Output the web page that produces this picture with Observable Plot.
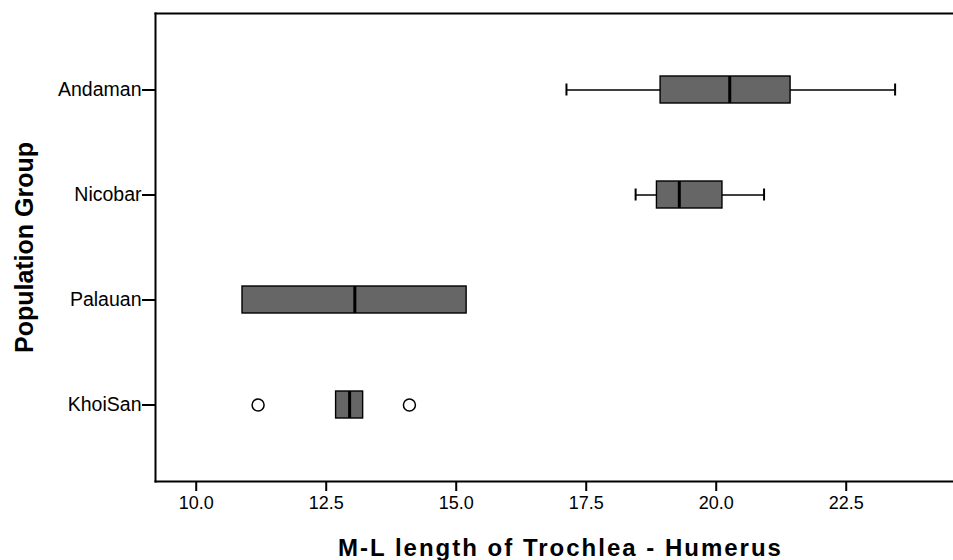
<!DOCTYPE html>
<html>
<head>
<meta charset="utf-8">
<script src="https://cdn.jsdelivr.net/npm/d3@7"></script>
<script src="https://cdn.jsdelivr.net/npm/@observablehq/plot@0.6"></script>
<style>
  html, body { margin: 0; padding: 0; background: white; overflow: hidden; }
</style>
</head>
<body>
<div id="chart"></div>
<script>
const groups = ["Andaman", "Nicobar", "Palauan", "KhoiSan"];
const whiskerLow = [17.12, 18.45, 10.89, 12.69];
const q1 = [18.93, 18.86, 10.89, 12.69];
const medians = [20.26, 19.29, 13.05, 12.95];
const q3 = [21.43, 20.12, 15.20, 13.21];
const whiskerHigh = [23.44, 20.92, 15.20, 13.21];
const outlierGroups = ["KhoiSan", "KhoiSan"];
const outlierValues = [11.19, 14.10];
const xTicks = [10, 12.5, 15, 17.5, 20, 22.5];
const xTitle = "M-L length of Trochlea - Humerus";
const yTitle = "Population Group";

const rows = groups.map((g, i) => ({
  group: g, lo: whiskerLow[i], q1: q1[i], med: medians[i], q3: q3[i], hi: whiskerHigh[i]
}));
const withWhiskers = rows.filter(r => r.lo < r.q1 || r.hi > r.q3);
const outliers = outlierValues.map((v, i) => ({group: outlierGroups[i], value: v}));

const chart = Plot.plot({
  width: 953,
  height: 560,
  marginLeft: 155,
  marginRight: 0,
  marginTop: 13,
  marginBottom: 79,
  style: {fontFamily: "'Liberation Sans', Arial, sans-serif", background: "white", color: "black"},
  x: {domain: [9.217, 24.563]},
  y: {type: "band", domain: groups, paddingInner: 0.743, paddingOuter: 0.6},
  marks: [
    Plot.frame({anchor: "top", stroke: "black", strokeWidth: 2}),
    Plot.frame({anchor: "left", stroke: "black", strokeWidth: 2}),
    Plot.frame({anchor: "bottom", stroke: "black", strokeWidth: 2}),
    Plot.axisX({ticks: xTicks, tickFormat: d3.format(".1f"), tickSize: 10, tickPadding: 5, fontSize: 18, strokeWidth: 2, label: null}),
    Plot.axisY({tickSize: 13, tickPadding: 1, fontSize: 19.5, strokeWidth: 2, label: null}),
    Plot.ruleY(withWhiskers, {y: "group", x1: "lo", x2: "hi", stroke: "black", strokeWidth: 1.6}),
    Plot.tickX(withWhiskers, {y: "group", x: "lo", stroke: "black", strokeWidth: 2, insetTop: 7.5, insetBottom: 7.5}),
    Plot.tickX(withWhiskers, {y: "group", x: "hi", stroke: "black", strokeWidth: 2, insetTop: 7.5, insetBottom: 7.5}),
    Plot.barX(rows, {y: "group", x1: "q1", x2: "q3", fill: "#666666", stroke: "black", strokeWidth: 1.4}),
    Plot.tickX(rows, {y: "group", x: "med", stroke: "black", strokeWidth: 3}),
    Plot.dot(outliers, {x: "value", y: "group", r: 6, stroke: "black", fill: "white", strokeWidth: 1.5}),
    Plot.text([xTitle], {text: d => d, frameAnchor: "bottom", lineAnchor: "bottom", dy: 74, dx: 6, fontSize: 24, fontWeight: "bold", fill: "black", className: "xtitle"}),
    Plot.text([yTitle], {text: d => d, frameAnchor: "left", textAnchor: "middle", lineAnchor: "middle", rotate: -90, dx: -131, fontSize: 25, fontWeight: "bold", fill: "black"})
  ]
});
document.getElementById("chart").appendChild(chart);
d3.select(chart).selectAll(".xtitle text").style("letter-spacing", "2px");
</script>
</body>
</html>
